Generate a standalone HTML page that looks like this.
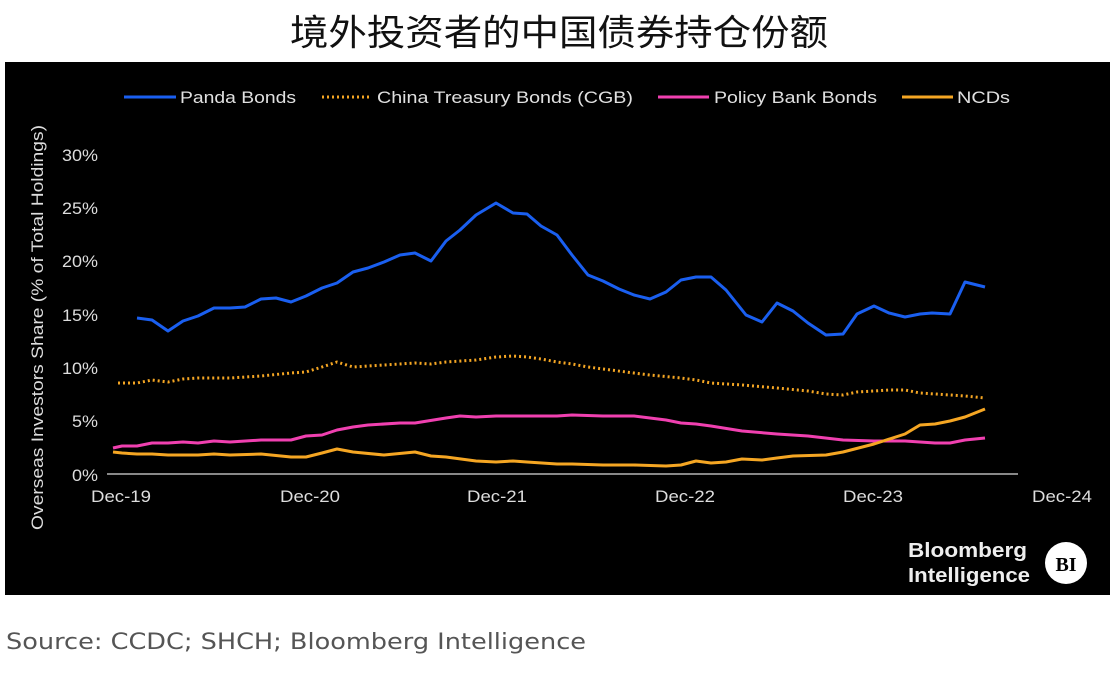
<!DOCTYPE html>
<html><head><meta charset="utf-8"><style>
body{margin:0;background:#fff;width:1118px;height:678px;overflow:hidden;font-family:"Liberation Sans","Noto Sans CJK SC",sans-serif}
</style></head><body>
<svg width="1118" height="678" xmlns="http://www.w3.org/2000/svg" font-family="Liberation Sans, Noto Sans CJK SC, sans-serif">
<rect width="1118" height="678" fill="#fff"/>
<text x="290" y="45" font-size="36" textLength="538" lengthAdjust="spacingAndGlyphs" fill="#111" font-family="Noto Sans CJK SC, sans-serif">境外投资者的中国债券持仓份额</text>
<rect x="5" y="62" width="1105" height="533" fill="#000"/>
<g font-size="17" fill="#e0e0e0">
<line x1="124" y1="97" x2="176" y2="97" stroke="#1a5ff0" stroke-width="3"/><text x="180" y="103" textLength="116" lengthAdjust="spacingAndGlyphs">Panda Bonds</text>
<line x1="322" y1="97" x2="372" y2="97" stroke="#f5a623" stroke-width="3" stroke-dasharray="2,3"/><text x="377" y="103" textLength="256" lengthAdjust="spacingAndGlyphs">China Treasury Bonds (CGB)</text>
<line x1="658" y1="97" x2="709" y2="97" stroke="#f040b0" stroke-width="3"/><text x="714" y="103" textLength="163" lengthAdjust="spacingAndGlyphs">Policy Bank Bonds</text>
<line x1="902" y1="97" x2="953" y2="97" stroke="#f5a623" stroke-width="3"/><text x="957" y="103" textLength="53" lengthAdjust="spacingAndGlyphs">NCDs</text>
</g>
<g font-size="17" fill="#ddd">
<text x="62" y="161" textLength="36" lengthAdjust="spacingAndGlyphs">30%</text>
<text x="62" y="214" textLength="36" lengthAdjust="spacingAndGlyphs">25%</text>
<text x="62" y="267" textLength="36" lengthAdjust="spacingAndGlyphs">20%</text>
<text x="62" y="321" textLength="36" lengthAdjust="spacingAndGlyphs">15%</text>
<text x="62" y="374" textLength="36" lengthAdjust="spacingAndGlyphs">10%</text>
<text x="72" y="427" textLength="26" lengthAdjust="spacingAndGlyphs">5%</text>
<text x="72" y="481" textLength="26" lengthAdjust="spacingAndGlyphs">0%</text>
</g>
<text transform="translate(43,530) rotate(-90)" font-size="17" fill="#ddd" textLength="405" lengthAdjust="spacingAndGlyphs">Overseas Investors Share (% of Total Holdings)</text>
<line x1="107" y1="474" x2="1018" y2="474" stroke="#888" stroke-width="2"/>
<g font-size="17" fill="#ddd">
<text x="91" y="502" textLength="60" lengthAdjust="spacingAndGlyphs">Dec-19</text>
<text x="280" y="502" textLength="60" lengthAdjust="spacingAndGlyphs">Dec-20</text>
<text x="467" y="502" textLength="60" lengthAdjust="spacingAndGlyphs">Dec-21</text>
<text x="655" y="502" textLength="60" lengthAdjust="spacingAndGlyphs">Dec-22</text>
<text x="843" y="502" textLength="60" lengthAdjust="spacingAndGlyphs">Dec-23</text>
<text x="1032" y="502" textLength="60" lengthAdjust="spacingAndGlyphs">Dec-24</text>
</g>
<g fill="none" stroke-width="3" stroke-linejoin="round">
<polyline stroke="#1a5ff0" points="137,318 152,320 168,331 183,321 198,316 214,308 230,308 245,307 261,299 276,298 291,302 306,296 322,288 337,283 353,272 368,268 384,262 400,255 415,253 431,261 446,241 460,230 476,215 496,203 513,213 527,214 541,226 557,235 572,255 588,275 603,281 619,289 634,295 650,299 666,292 681,280 696,277 711,277 726,290 746,315 762,322 777,303 793,311 808,323 826,335 843,334 857,314 874,306 889,313 905,317 920,314 932,313 950,314 965,282 985,287"/>
<polyline stroke="#f5a623" stroke-dasharray="2,3" points="118,383 137,383 152,380 168,382 183,379 198,378 230,378 261,376 291,373 306,372 322,367 337,362 353,367 384,365 415,363 431,364 446,362 476,360 496,357 513,356 527,357 541,359 557,362 572,364 588,367 603,369 634,373 650,375 681,378 696,380 711,383 742,385 777,388 808,391 826,394 843,395 857,392 874,391 889,390 905,390 920,393 950,395 965,396 985,398"/>
<polyline stroke="#f040b0" points="113,448 122,446 137,446 152,443 168,443 183,442 198,443 214,441 230,442 261,440 291,440 306,436 322,435 337,430 353,427 368,425 400,423 415,423 446,418 460,416 476,417 496,416 527,416 557,416 572,415 603,416 634,416 650,418 666,420 681,423 696,424 711,426 742,431 777,434 808,436 843,440 874,441 905,441 935,443 950,443 965,440 985,438"/>
<polyline stroke="#f5a623" points="113,452 122,453 137,454 152,454 168,455 198,455 214,454 230,455 261,454 291,457 306,457 322,453 337,449 353,452 384,455 415,452 431,456 446,457 476,461 496,462 513,461 527,462 557,464 572,464 603,465 634,465 666,466 681,465 696,461 711,463 726,462 742,459 762,460 777,458 793,456 826,455 843,452 874,444 905,434 920,425 935,424 950,421 965,417 985,409"/>
</g>
<text x="908" y="557" font-size="20" font-weight="bold" fill="#eee" textLength="119" lengthAdjust="spacingAndGlyphs">Bloomberg</text>
<text x="908" y="582" font-size="20" font-weight="bold" fill="#eee" textLength="122" lengthAdjust="spacingAndGlyphs">Intelligence</text>
<circle cx="1066" cy="563" r="21" fill="#fff"/>
<text x="1066" y="571" font-size="20" font-weight="bold" text-anchor="middle" fill="#000" font-family="Liberation Serif, serif">BI</text>
<text x="6" y="649" font-size="22" fill="#555" font-family="DejaVu Sans, sans-serif" textLength="580" lengthAdjust="spacingAndGlyphs">Source: CCDC; SHCH; Bloomberg Intelligence</text>
</svg>
</body></html>
